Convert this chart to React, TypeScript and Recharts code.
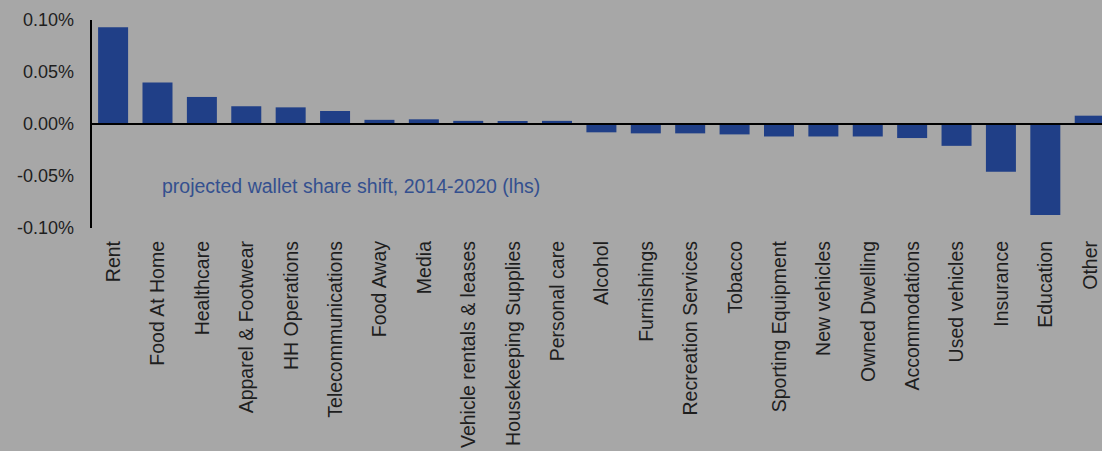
import React from 'react';
import { BarChart, Bar, XAxis, YAxis, ReferenceLine } from 'recharts';

// categories, left to right
const categories = [
  'Rent', 'Food At Home', 'Healthcare', 'Apparel & Footwear', 'HH Operations',
  'Telecommunications', 'Food Away', 'Media', 'Vehicle rentals & leases',
  'Housekeeping Supplies', 'Personal care', 'Alcohol', 'Furnishings',
  'Recreation Services', 'Tobacco', 'Sporting Equipment', 'New vehicles',
  'Owned Dwelling', 'Accommodations', 'Used vehicles', 'Insurance', 'Education', 'Other',
];

// projected wallet share shift, in percent points
const shiftValues = [
  0.093, 0.040, 0.026, 0.017, 0.016,
  0.0125, 0.004, 0.0045, 0.003,
  0.003, 0.003, -0.008, -0.009,
  -0.009, -0.010, -0.012, -0.012,
  -0.012, -0.0135, -0.021, -0.046, -0.0875, 0.008,
];

const yTicks = [0.1, 0.05, 0, -0.05, -0.1];

const chartData = categories.map((name, i) => ({ name, value: shiftValues[i] }));

const FONT = '"Liberation Sans", Arial, sans-serif';

const CategoryTick = (props: any) => {
  const { x, y, payload } = props;
  return (
    <g transform={`translate(${x},${y})`}>
      <text
        transform="rotate(-90)"
        x={-13}
        y={0}
        dy="0.35em"
        textAnchor="end"
        fill="#1e1e1e"
        fontSize={19.5}
        fontFamily={FONT}
      >
        {payload.value}
      </text>
    </g>
  );
};

const App: React.FC = () => {
  return (
    <div style={{ position: 'absolute', left: 0, top: 0, width: 1102, height: 451, overflow: 'hidden', background: '#a7a7a7' }}>
      <BarChart
        width={1112}
        height={451}
        data={chartData}
        margin={{ top: 20, right: 0, left: 0, bottom: 0 }}
        barCategoryGap="16%"
      >
        <XAxis
          dataKey="name"
          interval={0}
          axisLine={false}
          tickLine={false}
          tickSize={0}
          tickMargin={0}
          height={223}
          tick={<CategoryTick />}
        />
        <YAxis
          width={91}
          domain={[-0.1, 0.1]}
          ticks={yTicks}
          tickFormatter={(v: number) => `${v.toFixed(2)}%`}
          axisLine={{ stroke: '#000', strokeWidth: 2 }}
          tickLine={false}
          tickSize={0}
          tickMargin={17}
          tick={{ fill: '#1e1e1e', fontSize: 18, fontFamily: FONT }}
        />
        <Bar dataKey="value" fill="#203f87" isAnimationActive={false} />
        <ReferenceLine y={0} stroke="#000" strokeWidth={2} />
      </BarChart>
      <div
        style={{
          position: 'absolute',
          left: 162,
          top: 175,
          fontFamily: FONT,
          fontSize: 19.5,
          color: '#34508f',
          whiteSpace: 'nowrap',
        }}
      >
        projected wallet share shift, 2014-2020 (lhs)
      </div>
    </div>
  );
};

export default App;
